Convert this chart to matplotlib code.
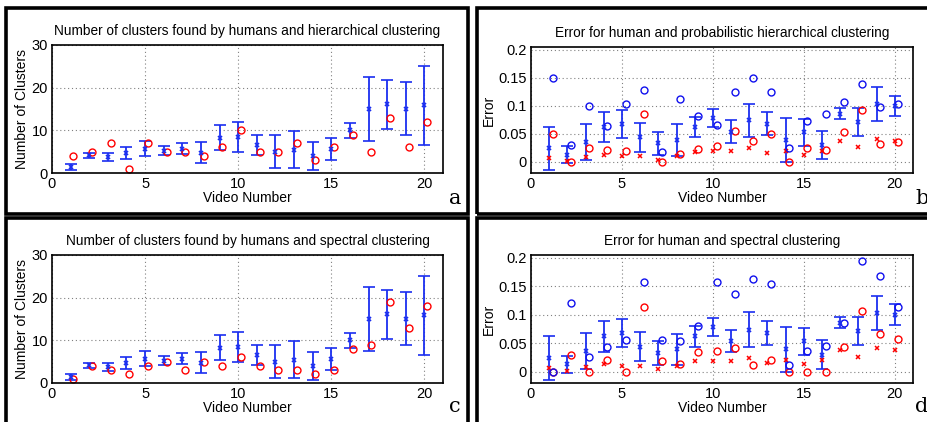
import numpy as np
import matplotlib
matplotlib.use('Agg')
import matplotlib.pyplot as plt
from matplotlib.patches import Rectangle

plt.rcParams['font.family'] = ['Liberation Sans', 'DejaVu Sans']

videos = np.arange(1, 21)

# human cluster counts (mean +- std), same in a and c
human_n_mean = [1.5, 4.2, 3.7, 4.6, 5.7, 5.2, 5.7, 4.8, 8.3, 8.4,
                6.6, 5.0, 5.5, 3.9, 5.6, 10.0, 15.0, 16.1, 15.1, 15.9]
human_n_std = [0.7, 0.6, 1.0, 1.4, 1.75, 1.05, 1.25, 2.55, 2.85, 3.45,
               2.3, 3.8, 4.25, 3.25, 2.5, 1.75, 7.55, 5.75, 6.25, 9.25]
hier_n = [4, 5, 7, 1, 7, 5, 5, 4, 6, 10, 5, 5, 7, 3, 6, 9, 5, 13, 6, 12]
spec_n = [1, 4, 3, 2, 4, 5, 3, 5, 4, 6, 4, 3, 3, 2, 3, 8, 9, 19, 13, 18]

# human error (mean +- std), same in b and d
human_e_mean = [0.024, 0.013, 0.036, 0.062, 0.068, 0.044, 0.033, 0.039, 0.062, 0.078,
                0.054, 0.074, 0.068, 0.039, 0.053, 0.030, 0.086, 0.071, 0.103, 0.100]
human_e_std = [0.039, 0.015, 0.032, 0.027, 0.025, 0.026, 0.021, 0.028, 0.018, 0.016,
               0.020, 0.030, 0.021, 0.039, 0.024, 0.025, 0.010, 0.025, 0.030, 0.018]
human_e_red = [0.006, 0.001, 0.009, 0.013, 0.010, 0.010, 0.004, 0.010, 0.018, 0.019,
               0.019, 0.024, 0.016, 0.020, 0.013, 0.020, 0.038, 0.026, 0.041, 0.038]

hier_blue = [0.150, 0.030, 0.100, 0.064, 0.104, 0.128, 0.018, 0.113, 0.081, 0.066,
             0.124, 0.150, 0.125, 0.025, 0.072, 0.086, 0.107, 0.139, 0.098, 0.104]
hier_red = [0.050, 0.000, 0.025, 0.021, 0.019, 0.085, 0.000, 0.014, 0.023, 0.028,
            0.055, 0.038, 0.050, 0.000, 0.025, 0.021, 0.053, 0.093, 0.032, 0.035]
spec_blue = [0.000, 0.121, 0.025, 0.043, 0.056, 0.157, 0.056, 0.054, 0.081, 0.157,
             0.137, 0.163, 0.154, 0.012, 0.037, 0.045, 0.086, 0.194, 0.168, 0.113]
spec_red = [0.000, 0.030, 0.000, 0.021, 0.000, 0.113, 0.019, 0.014, 0.035, 0.037,
            0.041, 0.012, 0.020, 0.000, 0.000, 0.000, 0.043, 0.107, 0.066, 0.057]

W, H = 928, 422
fig = plt.figure(figsize=(W / 100, H / 100), dpi=100)


def px_axes(x0, y0, x1, y1):
    return fig.add_axes([x0 / W, 1 - y1 / H, (x1 - x0) / W, (y1 - y0) / H])


def frame(x0, y0, x1, y1):
    fig.patches.append(Rectangle((x0 / W, 1 - y1 / H), (x1 - x0) / W, (y1 - y0) / H,
                                 transform=fig.transFigure, fill=False, lw=2.6,
                                 edgecolor='black'))


def style(ax, title):
    ax.set_xlim(0, 21)
    ax.set_xticks([0, 5, 10, 15, 20])
    ax.grid(True, linestyle=(0, (1, 2.5)), color='#808080', lw=0.8)
    ax.set_axisbelow(True)
    ax.tick_params(labelsize=10.5, direction='in', length=0, pad=3)
    ax.set_xlabel('Video Number', fontsize=10, labelpad=0)
    ax.set_title(title, fontsize=9.8, pad=7)
    for s in ax.spines.values():
        s.set_linewidth(1.2)


def count_panel(ax, model, title):
    style(ax, title)
    ax.errorbar(videos, human_n_mean, yerr=human_n_std, fmt='x', color='#1a2ef0',
                ms=3.5, mew=1.2, elinewidth=1.3, capsize=4, capthick=1.3)
    ax.plot(videos + 0.15, model, 'o', mfc='none', mec='red', ms=5, mew=1)
    ax.set_ylim(0, 30)
    ax.set_yticks([0, 10, 20, 30])
    ax.set_ylabel('Number of Clusters', fontsize=10, labelpad=2)


def error_panel(ax, blue, red, title):
    style(ax, title)
    ax.errorbar(videos, human_e_mean, yerr=human_e_std, fmt='x', color='#1a2ef0',
                ms=3.5, mew=1.2, elinewidth=1.3, capsize=4, capthick=1.3)
    ax.plot(videos, human_e_red, 'x', color='red', ms=3.5, mew=1.1)
    ax.plot(videos + 0.2, red, 'o', mfc='none', mec='red', ms=5, mew=1)
    ax.plot(videos + 0.2, blue, 'o', mfc='none', mec='#1010ee', ms=5, mew=1)
    ax.set_ylim(-0.02, 0.205)
    ax.set_yticks([0, 0.05, 0.1, 0.15, 0.2])
    ax.set_yticklabels(['0', '0.05', '0.1', '0.15', '0.2'])
    ax.set_ylabel('Error', fontsize=10, labelpad=2)


frame(6, 8, 468, 214)
frame(477, 8, 935, 214)
frame(6, 218, 468, 430)
frame(477, 218, 935, 430)

ax_a = px_axes(52, 45, 443, 173)
count_panel(ax_a, hier_n, 'Number of clusters found by humans and hierarchical clustering')
ax_b = px_axes(531, 47, 913, 173)
error_panel(ax_b, hier_blue, hier_red, 'Error for human and probabilistic hierarchical clustering')
ax_c = px_axes(52, 255, 443, 383)
count_panel(ax_c, spec_n, 'Number of clusters found by humans and spectral clustering')
ax_d = px_axes(531, 255, 913, 383)
error_panel(ax_d, spec_blue, spec_red, 'Error for human and spectral clustering')

for lab, (x, y) in zip('abcd', [(455, 204), (922, 204), (455, 412), (922, 412)]):
    fig.text(x / W, 1 - y / H, lab, fontsize=15, family='DejaVu Serif',
             ha='center', va='baseline')

fig.savefig('out.png', dpi=100)
